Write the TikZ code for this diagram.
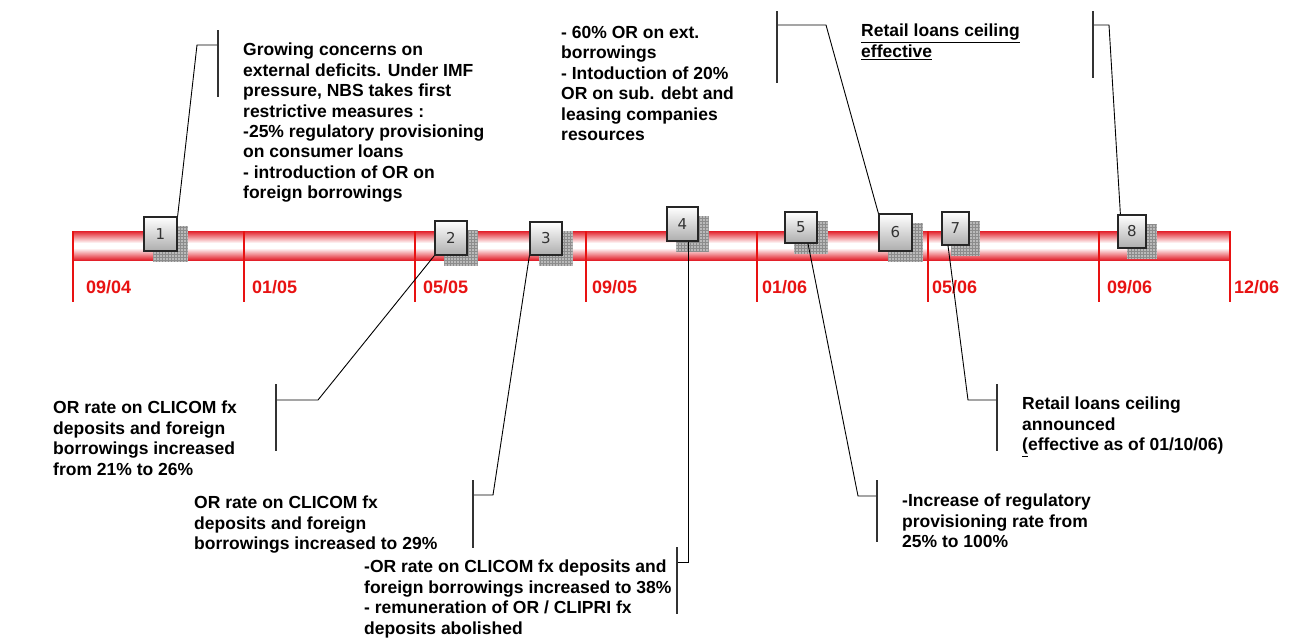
\documentclass[tikz,border=0pt]{standalone}
\usepackage{fontspec}
\setmainfont{Liberation Sans}
\newfontfamily\numfont{DejaVu Sans}
\usetikzlibrary{patterns,calc,backgrounds}
\definecolor{barred}{RGB}{226,32,42}
\definecolor{tickred}{RGB}{232,18,18}
\begin{document}
\begin{tikzpicture}[x=1pt,y=-1pt,
  note/.style={anchor=north west, inner sep=0pt, align=left, font=\fontsize{17.5}{20.4}\selectfont\bfseries},
  datelbl/.style={anchor=base west, inner sep=0pt, text=tickred, font=\fontsize{18}{20}\selectfont\bfseries},
  evbox/.style={draw=black!85, line width=1.2pt, top color=white, bottom color=black!32, inner sep=0pt, font=\numfont\fontsize{15}{15}\selectfont, text=black!80},
  lead/.style={black, line width=0.9pt},
  brk/.style={black!80, line width=1.2pt},
  tickline/.style={tickred, line width=1.3pt},
  shadowfill/.style={fill=black!27},
  shadowgrid/.style={pattern=grid, pattern color=black!45}]

\useasboundingbox (0,0) rectangle (1290,638);

% event boxes
\node[evbox, minimum width=33pt, minimum height=34pt] (b1) at (160.5,234) {1};
\node[evbox, minimum width=32pt, minimum height=34pt] (b2) at (451,238) {2};
\node[evbox, minimum width=32pt, minimum height=33pt] (b3) at (546,238.5) {3};
\node[evbox, minimum width=31pt, minimum height=34pt] (b4) at (682.5,224) {4};
\node[evbox, minimum width=32pt, minimum height=31pt] (b5) at (801,227.5) {5};
\node[evbox, minimum width=33pt, minimum height=37pt] (b6) at (895.5,232.5) {6};
\node[evbox, minimum width=27pt, minimum height=33pt] (b7) at (955.5,228.5) {7};
\node[evbox, minimum width=28pt, minimum height=33pt] (b8) at (1132,231.5) {8};

% background: bar, ticks, shadows
\begin{scope}[on background layer]
  \fill[white] (0,0) rectangle (1290,638);
  \shade[top color=barred, bottom color=white] (73,231) rectangle (1230,243);
  \fill[white] (73,243) rectangle (1230,248);
  \shade[top color=white, bottom color=barred] (73,248) rectangle (1230,260);
  \foreach \tx in {73,244,415,586,757,928,1099,1230}
    \draw[tickline] (\tx,231) -- (\tx,302);
  \foreach \b in {b1,b2,b3,b4,b5,b6,b7,b8}{
    \fill[shadowfill] ($(\b.south west)+(10,10)$) rectangle ($(\b.north east)+(10,10)$);
    \fill[shadowgrid] ($(\b.south west)+(10,10)$) rectangle ($(\b.north east)+(10,10)$);
  }
\end{scope}

% date labels
\node[datelbl] (d1) at (86,293) {09/04};
\node[datelbl] (d2) at (252,293) {01/05};
\node[datelbl] (d3) at (423,293) {05/05};
\node[datelbl] (d4) at (592,293) {09/05};
\node[datelbl] (d5) at (762,293) {01/06};
\node[datelbl] (d6) at (932,293) {05/06};
\node[datelbl] (d7) at (1107,293) {09/06};
\node[datelbl] (d8) at (1234,293) {12/06};

% texts
\node[note] (t1) at (243,43) {Growing concerns on\\external deficits. Under IMF\\pressure, NBS takes first\\restrictive measures :\\-25\% regulatory provisioning\\on consumer loans\\- introduction of OR on\\foreign borrowings};
\node[note] (t2) at (53,401) {OR rate on CLICOM fx\\deposits and foreign\\borrowings increased\\from 21\% to 26\%};
\node[note] (t3) at (194,496) {OR rate on CLICOM fx\\deposits and foreign\\borrowings increased to 29\%};
\node[note] (t4) at (364,560) {-OR rate on CLICOM fx deposits and\\foreign borrowings increased to 38\%\\- remuneration of OR / CLIPRI fx\\deposits abolished};
\node[note] (t5) at (902,494) {-Increase of regulatory\\provisioning rate from\\25\% to 100\%};
\node[note] (t6) at (561,26) {- 60\% OR on ext.\\borrowings\\- Intoduction of 20\%\\OR on sub. debt and\\leasing companies\\resources};
\node[note] (t7) at (1022,397) {Retail loans ceiling\\announced\\\underline{(}effective as of 01/10/06)};
\node[note] (t8) at (861,24) {\underline{Retail loans ceiling}\\\underline{effective}};

% callout 1
\coordinate (k1) at (197,45); \coordinate (h1) at (218,45);
\coordinate (u1) at (218,30); \coordinate (v1) at (218,97);
\draw[lead] (b1.north east) -- (k1) -- (h1);
\draw[brk] (u1) -- (v1);
% callout 2
\coordinate (k2) at (318,400); \coordinate (h2) at (276,400);
\coordinate (u2) at (276,384); \coordinate (v2) at (276,451);
\draw[lead] (b2.south west) -- (k2) -- (h2);
\draw[brk] (u2) -- (v2);
% callout 3
\coordinate (k3) at (493,495); \coordinate (h3) at (473,495);
\coordinate (u3) at (473,480); \coordinate (v3) at (473,548);
\draw[lead] (b3.south west) -- (k3) -- (h3);
\draw[brk] (u3) -- (v3);
% callout 4
\coordinate (k4) at (688,562); \coordinate (h4) at (677,562);
\coordinate (u4) at (677,547); \coordinate (v4) at (677,614);
\draw[lead] (b4.south -| k4) -- (k4) -- (h4);
\draw[brk] (u4) -- (v4);
% callout 5
\coordinate (k5) at (858,496); \coordinate (h5) at (877,496);
\coordinate (u5) at (877,480); \coordinate (v5) at (877,542);
\draw[lead] ($(b5.south)+(7,0)$) -- (k5) -- (h5);
\draw[brk] (u5) -- (v5);
% callout 6
\coordinate (k6) at (826,25); \coordinate (h6) at (777,25);
\coordinate (u6) at (777,11); \coordinate (v6) at (777,83);
\draw[lead] (b6.north west) -- (k6) -- (h6);
\draw[brk] (u6) -- (v6);
% callout 7
\coordinate (k7) at (968,400); \coordinate (h7) at (997,400);
\coordinate (u7) at (997,384); \coordinate (v7) at (997,451);
\draw[lead] ($(b7.south)+(-7.5,0)$) -- (k7) -- (h7);
\draw[brk] (u7) -- (v7);
% callout 8
\coordinate (k8) at (1109,25); \coordinate (h8) at (1093,25);
\coordinate (u8) at (1093,11); \coordinate (v8) at (1093,78);
\draw[lead] ($(b8.north west)+(3,0)$) -- (k8) -- (h8);
\draw[brk] (u8) -- (v8);
\end{tikzpicture}
\end{document}
